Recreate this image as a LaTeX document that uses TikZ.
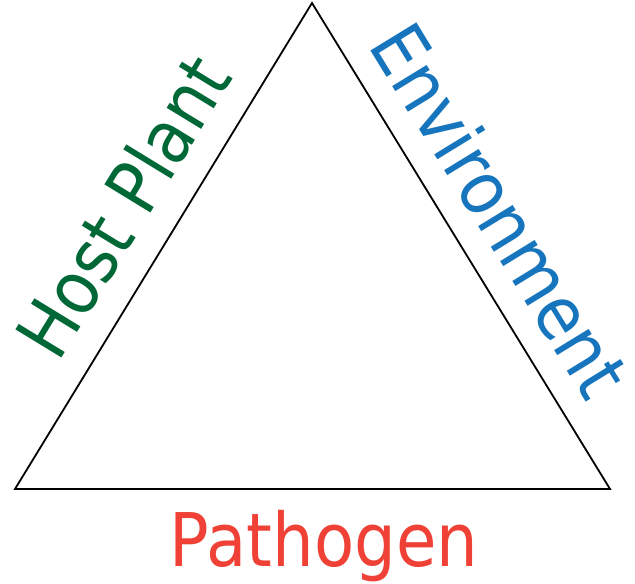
\documentclass[tikz,border=0pt]{standalone}
\usepackage{fontspec}
\setmainfont{DejaVu Sans}
\definecolor{hostgreen}{RGB}{0,104,55}
\definecolor{envblue}{RGB}{22,117,188}
\definecolor{pathred}{RGB}{239,65,54}
\tikzset{
  lbl/.style={inner sep=0pt, anchor=base, font=\fontsize{74}{80}\selectfont},
  edge/.style={draw=black, line width=1.8pt, line join=miter}
}
\newcommand{\sq}[1]{\scalebox{0.888}[1]{#1}}
\begin{document}
\begin{tikzpicture}[x=1pt,y=-1pt]
\useasboundingbox (0,0) rectangle (635,584);
\coordinate (top) at (312,3);
\coordinate (bl) at (15,489);
\coordinate (br) at (610,489);
\draw[edge] (top) -- (br) -- (bl) -- cycle;
\node[lbl, text=hostgreen, rotate=58.57] (host) at (146.4,220.6) {\sq{Host Plant}};
\node[lbl, text=envblue, rotate=-58.48] (env) at (477.5,224.5) {\sq{Environment}};
\node[lbl, text=pathred] (path) at (324,566) {\sq{Pathogen}};
\end{tikzpicture}
\end{document}
